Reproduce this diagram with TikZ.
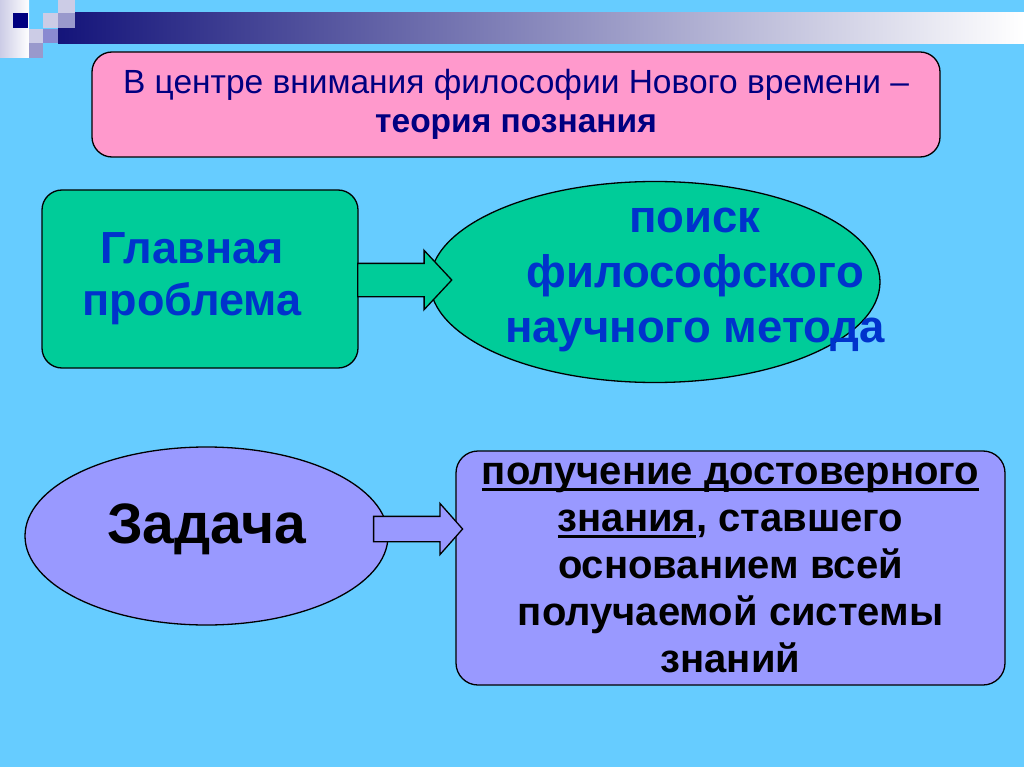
\documentclass[tikz,border=0pt]{standalone}
\usepackage{fontspec}
\setmainfont{Liberation Sans}
\usetikzlibrary{shapes.geometric,shapes.arrows}
\definecolor{skyback}{HTML}{66CCFF}
\definecolor{pinkbox}{HTML}{FF99CC}
\definecolor{greenbox}{HTML}{00CC99}
\definecolor{lilacbox}{HTML}{9999FF}
\definecolor{problue}{HTML}{0033CC}
\definecolor{headnavy}{HTML}{000080}
\definecolor{barnavy}{HTML}{14147A}
\definecolor{tilelight}{HTML}{CCCCE6}
\definecolor{tilemid}{HTML}{9999CC}
\newsavebox\ulbox
\newcommand\thickul[1]{\sbox\ulbox{#1}\rlap{\rule[-6pt]{\wd\ulbox}{2.6pt}}\usebox\ulbox}
\begin{document}
\begin{tikzpicture}[x=1pt,y=-1pt,
  frame/.style={draw=black,line width=1.3pt},
  box/.style={frame,rounded corners=20pt,inner sep=0pt,align=center},
  oval/.style={frame,ellipse,inner sep=0pt,align=center},
  blockarrow/.style={frame,single arrow,inner xsep=0pt,single arrow head extend=13pt},
  bluetext/.style={align=center,text=problue},
]
\useasboundingbox (0,0) rectangle (1024,767);
\fill[skyback] (0,0) rectangle (1024,767);
% header bar and tiles
\shade[left color=barnavy,right color=white] (58,13) rectangle (1024,44);
\shade[left color=tilelight,right color=white] (0,0) rectangle (29,58);
\fill[headnavy] (13,13) rectangle (28,28);
\fill[tilelight] (29,29) rectangle (43,43);
\fill[tilemid] (29,43) rectangle (43,58);
\fill[tilelight] (43,13) rectangle (58,28);
\fill[tilemid!90!blue] (43,29) rectangle (58,43);
\fill[tilelight] (58,0) rectangle (75,13);
\fill[tilemid] (58,13) rectangle (75,28);

\node[box,fill=pinkbox,minimum width=848pt,minimum height=105pt,text=headnavy,
  font=\fontsize{33.5}{39}\selectfont] (theme) at (516,104.5)
  {В центре внимания философии Нового времени –\\{\bfseries теория познания}};
\node[box,fill=greenbox,minimum width=316pt,minimum height=178pt,
  label={[bluetext,font=\bfseries\fontsize{45}{52}\selectfont,xshift=-8pt]center:Главная\\проблема}]
  (problem) at (200,279) {};
\node[oval,fill=greenbox,minimum width=450pt,minimum height=201pt,
  label={[bluetext,font=\bfseries\fontsize{45.5}{55}\selectfont,xshift=40pt,yshift=2pt]center:поиск\\философского\\научного метода}]
  (search) at (655,282) {};
\node[blockarrow,fill=greenbox,inner ysep=16pt,minimum height=94pt,single arrow tip angle=94]
  (arrowA) at (397,280) {};
\node[oval,fill=lilacbox,minimum width=363pt,minimum height=178pt,
  font=\bfseries\fontsize{57}{60}\selectfont,text depth=25pt] (task) at (206.5,536) {Задача};
\node[box,fill=lilacbox,rounded corners=22pt,minimum width=549pt,minimum height=234pt,
  font=\bfseries\fontsize{40}{47}\selectfont] (result) at (730.5,568)
  {\thickul{получение достоверного}\\ \thickul{знания}, ставшего\\основанием всей\\получаемой системы\\знаний};
\node[blockarrow,fill=lilacbox,inner ysep=12pt,minimum height=89pt,single arrow tip angle=97]
  (arrowB) at (412.5,529) {};
\end{tikzpicture}
\end{document}
